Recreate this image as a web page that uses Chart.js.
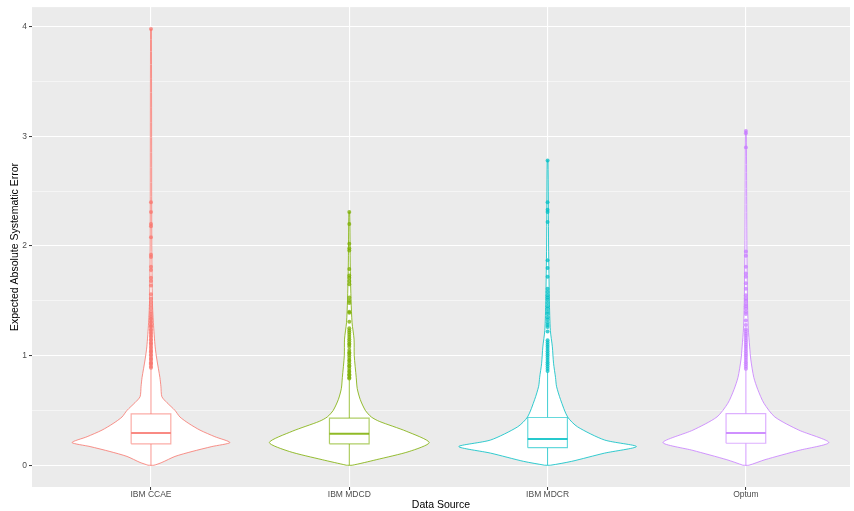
<!DOCTYPE html>
<html lang="en">
<head>
  <meta charset="UTF-8">
  <title>Expected Absolute Systematic Error by Data Source</title>
  <script src="https://cdn.jsdelivr.net/npm/chart.js"></script>
  <style>
    body { margin: 0; background: #ffffff; }
    .wrap { width: 854px; height: 511px; position: relative; }
  </style>
</head>
<body>
  <div class="wrap">
    <canvas id="violinChart"></canvas>
  </div>

  <script>
    // categories and colours (ggplot default hues)
    const categories = ['IBM CCAE', 'IBM MDCD', 'IBM MDCR', 'Optum'];
    const colors = ['#F8766D', '#7CAE00', '#00BFC4', '#C77CFF'];

    // box plot summaries
    const q1 = [0.195, 0.195, 0.16, 0.20];
    const median = [0.293, 0.286, 0.238, 0.293];
    const q3 = [0.468, 0.43, 0.435, 0.47];
    const whiskerLo = [0, 0, 0, 0];
    const whiskerHi = [0.88, 0.78, 0.85, 0.87];

    // violin profiles: y levels and half widths (category units)
    const ccaeY = [0, 0.025, 0.08, 0.125, 0.17, 0.207, 0.26, 0.32, 0.38, 0.44, 0.5, 0.57, 0.625, 0.72, 0.8, 0.96, 1.08, 1.3, 1.5, 2.0, 3.98];
    const ccaeW = [0.015, 0.055, 0.121, 0.207, 0.307, 0.398, 0.322, 0.247, 0.191, 0.146, 0.121, 0.081, 0.055, 0.05, 0.045, 0.03, 0.021, 0.012, 0.007, 0.004, 0.002];
    const mdcdY = [0, 0.05, 0.125, 0.207, 0.31, 0.4, 0.44, 0.5, 0.6, 0.7, 0.8, 1.0, 1.15, 1.3, 1.5, 1.8, 2.31];
    const mdcdW = [0.015, 0.136, 0.302, 0.403, 0.287, 0.151, 0.111, 0.081, 0.055, 0.04, 0.035, 0.025, 0.024, 0.014, 0.009, 0.005, 0.002];
    const mdcrY = [0, 0.035, 0.11, 0.17, 0.23, 0.35, 0.44, 0.6, 0.72, 0.8, 0.93, 1.08, 1.23, 1.5, 2.0, 2.78];
    const mdcrW = [0.015, 0.121, 0.287, 0.448, 0.287, 0.151, 0.101, 0.065, 0.045, 0.04, 0.03, 0.024, 0.014, 0.009, 0.005, 0.002];
    const optumY = [0, 0.05, 0.135, 0.207, 0.32, 0.44, 0.565, 0.69, 0.8, 0.96, 1.08, 1.25, 1.5, 2.0, 3.05];
    const optumW = [0.015, 0.096, 0.267, 0.418, 0.267, 0.146, 0.091, 0.06, 0.04, 0.025, 0.019, 0.012, 0.008, 0.005, 0.002];

    // outliers
    const ccaeOut = [3.98, 2.40, 2.31, 2.20, 2.18, 2.08, 1.92, 1.90, 1.81, 1.78, 1.71, 1.68, 1.64, 1.56, 1.52, 1.49, 1.46, 1.43, 1.40, 1.38, 1.36, 1.34, 1.33, 1.31, 1.30, 1.28, 1.27, 1.26, 1.24, 1.23, 1.21, 1.20, 1.18, 1.17, 1.15, 1.14, 1.12, 1.11, 1.10, 1.08, 1.07, 1.05, 1.04, 1.03, 1.01, 1.00, 0.98, 0.97, 0.96, 0.94, 0.93, 0.92, 0.90, 0.89];
    const mdcdOut = [2.31, 2.20, 2.02, 1.98, 1.96, 1.79, 1.73, 1.71, 1.68, 1.65, 1.53, 1.50, 1.48, 1.40, 1.39, 1.31, 1.25, 1.23, 1.21, 1.19, 1.17, 1.15, 1.13, 1.11, 1.10, 1.08, 1.05, 1.03, 1.02, 1.00, 0.98, 0.96, 0.95, 0.93, 0.91, 0.90, 0.88, 0.86, 0.85, 0.83, 0.82, 0.80, 0.79];
    const mdcrOut = [2.78, 2.40, 2.33, 2.31, 2.22, 1.87, 1.80, 1.72, 1.61, 1.58, 1.55, 1.53, 1.51, 1.48, 1.45, 1.43, 1.40, 1.38, 1.35, 1.33, 1.30, 1.28, 1.26, 1.22, 1.14, 1.12, 1.10, 1.08, 1.06, 1.04, 1.02, 1.00, 0.98, 0.96, 0.94, 0.92, 0.90, 0.88, 0.86];
    const optumOut = [3.05, 3.03, 2.90, 1.95, 1.91, 1.81, 1.75, 1.72, 1.66, 1.61, 1.55, 1.52, 1.50, 1.47, 1.45, 1.43, 1.40, 1.38, 1.32, 1.28, 1.24, 1.22, 1.20, 1.18, 1.16, 1.14, 1.12, 1.10, 1.08, 1.06, 1.04, 1.02, 1.00, 0.98, 0.96, 0.94, 0.92, 0.90, 0.88];

    // axis ticks
    const yMajor = [0, 1, 2, 3, 4];
    const yMinor = [0.5, 1.5, 2.5, 3.5];

    const violinYs = [ccaeY, mdcdY, mdcrY, optumY];
    const violinWs = [ccaeW, mdcdW, mdcrW, optumW];
    const outliers = [ccaeOut, mdcdOut, mdcrOut, optumOut];
    const boxHalf = 0.1;

    function alpha(hex, a) {
      const n = parseInt(hex.slice(1), 16);
      return 'rgba(' + (n >> 16) + ',' + ((n >> 8) & 255) + ',' + (n & 255) + ',' + a + ')';
    }

    const datasets = [];
    categories.forEach((cat, i) => {
      const ys = violinYs[i], ws = violinWs[i];
      // violin outline: up the left side, down the right side
      const shape = [];
      for (let k = 0; k < ys.length; k++) shape.push({ x: i - ws[k], y: ys[k] });
      for (let k = ys.length - 1; k >= 0; k--) shape.push({ x: i + ws[k], y: ys[k] });
      shape.push(shape[0]);
      datasets.push({
        type: 'line', data: shape, order: 5,
        borderColor: alpha(colors[i], 0.8), borderWidth: 1,
        backgroundColor: '#ffffff', fill: 'shape',
        pointRadius: 0, tension: 0.25
      });
      // whiskers
      datasets.push({
        type: 'line', order: 4, pointRadius: 0, borderWidth: 1,
        borderColor: alpha(colors[i], 0.75), fill: false,
        data: [{ x: i, y: whiskerLo[i] }, { x: i, y: q1[i] }]
      });
      datasets.push({
        type: 'line', order: 4, pointRadius: 0, borderWidth: 1,
        borderColor: alpha(colors[i], 0.75), fill: false,
        data: [{ x: i, y: q3[i] }, { x: i, y: whiskerHi[i] }]
      });
      // box
      datasets.push({
        type: 'line', order: 3, pointRadius: 0, borderWidth: 1.2,
        borderColor: alpha(colors[i], 0.6), backgroundColor: '#ffffff', fill: 'shape',
        data: [
          { x: i - boxHalf, y: q1[i] }, { x: i - boxHalf, y: q3[i] },
          { x: i + boxHalf, y: q3[i] }, { x: i + boxHalf, y: q1[i] },
          { x: i - boxHalf, y: q1[i] }
        ]
      });
      // median
      datasets.push({
        type: 'line', order: 2, pointRadius: 0, borderWidth: 2,
        borderColor: alpha(colors[i], 0.85), fill: false,
        data: [{ x: i - boxHalf, y: median[i] }, { x: i + boxHalf, y: median[i] }]
      });
      // outlier points
      datasets.push({
        type: 'scatter', order: 1,
        data: outliers[i].map(v => ({ x: i, y: v })),
        pointRadius: 2, pointBorderWidth: 0,
        pointBackgroundColor: alpha(colors[i], 0.75)
      });
    });

    const panelBg = {
      id: 'panelBg',
      beforeDraw(chart) {
        const { ctx, chartArea: a } = chart;
        ctx.save();
        ctx.fillStyle = '#EBEBEB';
        ctx.fillRect(a.left, a.top, a.right - a.left, a.bottom - a.top);
        ctx.restore();
      }
    };

    const tickFont = { family: 'Liberation Sans', size: 8.5 };
    const titleFont = { family: 'Liberation Sans', size: 10.5 };
    const isMajor = ctx => ctx.tick && Number.isInteger(ctx.tick.value);

    new Chart(document.getElementById('violinChart'), {
      data: { datasets },
      options: {
        responsive: true,
        maintainAspectRatio: false,
        animation: false,
        layout: { padding: { top: 5, right: 4, left: 0, bottom: 0 } },
        plugins: { legend: { display: false }, tooltip: { enabled: false } },
        scales: {
          x: {
            type: 'linear', min: -0.6, max: 3.525,
            afterBuildTicks: s => { s.ticks = categories.map((c, i) => ({ value: i })); },
            afterFit: s => { s.height = 24; },
            ticks: {
              autoSkip: false, maxRotation: 0, padding: 0,
              color: '#4D4D4D', font: tickFont,
              callback: v => categories[Math.round(v)]
            },
            grid: { color: '#ffffff', lineWidth: 1.1, tickLength: 3, tickColor: '#333333', tickWidth: 1 },
            border: { display: false },
            title: { display: true, text: 'Data Source', color: '#000000', font: titleFont, padding: { top: 0, bottom: 0 } }
          },
          y: {
            type: 'linear', min: -0.199, max: 4.18,
            afterBuildTicks: s => {
              s.ticks = yMajor.concat(yMinor).sort((a, b) => a - b).map(v => ({ value: v }));
            },
            afterFit: s => { s.width = 32; },
            ticks: {
              padding: 2, color: '#4D4D4D', font: tickFont,
              callback: v => (Number.isInteger(v) ? String(v) : '')
            },
            grid: {
              color: '#ffffff',
              lineWidth: ctx => (isMajor(ctx) ? 1.1 : 0.5),
              tickLength: 3,
              tickColor: ctx => (isMajor(ctx) ? '#333333' : 'rgba(0,0,0,0)'),
              tickWidth: 1
            },
            border: { display: false },
            title: { display: true, text: 'Expected Absolute Systematic Error', color: '#000000', font: titleFont, padding: { top: 9, bottom: 0 } }
          }
        }
      },
      plugins: [panelBg]
    });
  </script>
</body>
</html>
